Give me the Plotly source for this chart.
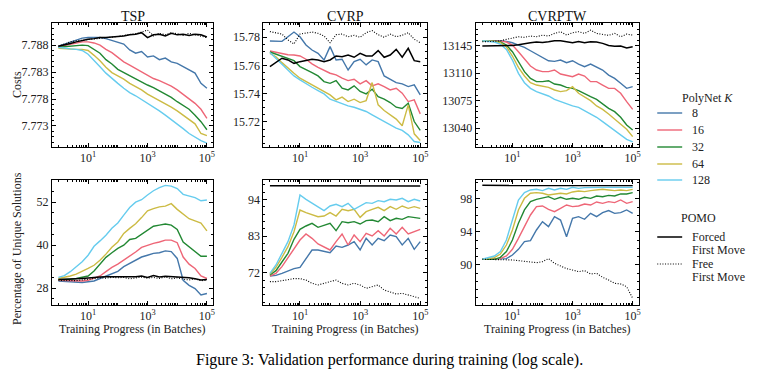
import plotly.graph_objects as go

# ---------------- data ----------------
batches = [1, 1.585, 2.512, 3.981, 6.31, 10, 15.85, 25.12, 39.81, 63.1, 100, 158.5, 251.2, 398.1, 631,
           1000, 1585, 2512, 3981, 6310, 10000, 15849, 25119, 39811, 63096, 100000]

poly_k = ["8", "16", "32", "64", "128"]
poly_colors = ["#4477AA", "#EE6677", "#228833", "#CCBB44", "#66CCEE"]

# TSP costs
tsp_cost_k8 = [7.7878, 7.7882, 7.7886, 7.7890, 7.7893, 7.7894, 7.7894, 7.7894, 7.7892, 7.7889, 7.7886, 7.7882, 7.7871,
               7.7865, 7.7868, 7.7858, 7.7860, 7.7853, 7.7856, 7.7849, 7.7846, 7.7840, 7.7835, 7.7828, 7.7809, 7.7800]
tsp_cost_k16 = [7.7877, 7.7879, 7.7882, 7.7884, 7.7886, 7.7886, 7.7884, 7.7880, 7.7872, 7.7866, 7.7857, 7.7849, 7.7843,
                7.7837, 7.7831, 7.7824, 7.7818, 7.7814, 7.7809, 7.7804, 7.7797, 7.7789, 7.7781, 7.7772, 7.7761, 7.7744]
tsp_cost_k32 = [7.7876, 7.7877, 7.7879, 7.7880, 7.7880, 7.7879, 7.7872, 7.7865, 7.7853, 7.7845, 7.7835, 7.7829, 7.7823,
                7.7818, 7.7812, 7.7806, 7.7801, 7.7795, 7.7789, 7.7783, 7.7775, 7.7768, 7.7761, 7.7750, 7.7738, 7.7723]
tsp_cost_k64 = [7.7874, 7.7873, 7.7872, 7.7872, 7.7872, 7.7870, 7.7861, 7.7851, 7.7839, 7.7829, 7.7823, 7.7817, 7.7809,
                7.7803, 7.7797, 7.7789, 7.7783, 7.7778, 7.7771, 7.7765, 7.7758, 7.7750, 7.7742, 7.7734, 7.7716, 7.7712]
tsp_cost_k128 = [7.7876, 7.7874, 7.7873, 7.7872, 7.7870, 7.7863, 7.7852, 7.7840, 7.7828, 7.7818, 7.7809, 7.7800, 7.7792,
                 7.7786, 7.7779, 7.7773, 7.7766, 7.7758, 7.7750, 7.7742, 7.7734, 7.7725, 7.7716, 7.7709, 7.7703, 7.7698]
tsp_cost_forced = [7.7878, 7.7880, 7.7883, 7.7886, 7.7889, 7.7891, 7.7892, 7.7894, 7.7894, 7.7895, 7.7895, 7.7897, 7.7899,
                   7.7900, 7.7903, 7.7894, 7.7899, 7.7900, 7.7897, 7.7902, 7.7899, 7.7900, 7.7898, 7.7900, 7.7899, 7.7895]
tsp_cost_free = [7.7878, 7.7882, 7.7886, 7.7888, 7.7889, 7.7890, 7.7891, 7.7892, 7.7894, 7.7895, 7.7896, 7.7898, 7.7899,
                 7.7901, 7.7904, 7.7908, 7.7897, 7.7902, 7.7899, 7.7903, 7.7901, 7.7898, 7.7902, 7.7899, 7.7897, 7.7894]

# CVRP costs
cvrp_cost_k8 = [15.7772, 15.7772, 15.7769, 15.7802, 15.7835, 15.7802, 15.7744, 15.7708, 15.7685, 15.7638, 15.7732, 15.7638,
                15.7643, 15.7567, 15.7626, 15.7643, 15.7603, 15.7638, 15.7626, 15.7525, 15.7502, 15.7478, 15.7469, 15.7450,
                15.7462, 15.7391]
cvrp_cost_k16 = [15.7701, 15.7692, 15.7680, 15.7675, 15.7673, 15.7666, 15.7643, 15.7610, 15.7586, 15.7567, 15.7544, 15.7532,
                 15.7509, 15.7492, 15.7502, 15.7469, 15.7492, 15.7455, 15.7469, 15.7450, 15.7426, 15.7438, 15.7403, 15.7344,
                 15.7356, 15.7257]
cvrp_cost_k32 = [15.7694, 15.7680, 15.7666, 15.7650, 15.7633, 15.7591, 15.7572, 15.7549, 15.7525, 15.7485, 15.7473, 15.7492,
                 15.7438, 15.7426, 15.7455, 15.7415, 15.7398, 15.7431, 15.7379, 15.7361, 15.7337, 15.7304, 15.7295, 15.7332,
                 15.7203, 15.7140]
cvrp_cost_k64 = [15.7685, 15.7661, 15.7619, 15.7579, 15.7544, 15.7509, 15.7485, 15.7462, 15.7438, 15.7415, 15.7391, 15.7356,
                 15.7375, 15.7344, 15.7361, 15.7337, 15.7351, 15.7478, 15.7321, 15.7281, 15.7250, 15.7220, 15.7173, 15.7321,
                 15.7116, 15.7069]
cvrp_cost_k128 = [15.7690, 15.7650, 15.7603, 15.7563, 15.7525, 15.7497, 15.7469, 15.7445, 15.7422, 15.7398, 15.7361, 15.7344,
                  15.7328, 15.7314, 15.7304, 15.7290, 15.7274, 15.7250, 15.7227, 15.7203, 15.7180, 15.7156, 15.7140, 15.7109,
                  15.7062, 15.7055]
cvrp_cost_forced = [15.7591, 15.7619, 15.7650, 15.7638, 15.7614, 15.7626, 15.7633, 15.7643, 15.7638, 15.7626, 15.7638, 15.7666,
                    15.7661, 15.7673, 15.7657, 15.7685, 15.7666, 15.7666, 15.7704, 15.7657, 15.7673, 15.7713, 15.7657, 15.7720,
                    15.7633, 15.7626]
cvrp_cost_free = [15.7838, 15.7831, 15.7821, 15.7779, 15.7751, 15.7821, 15.7826, 15.7835, 15.7826, 15.7807, 15.7760, 15.7816,
                  15.7821, 15.7802, 15.7812, 15.7798, 15.7831, 15.7845, 15.7816, 15.7798, 15.7821, 15.7802, 15.7812, 15.7831,
                  15.7784, 15.7760]

# CVRPTW costs
cvrptw_cost_k8 = [13151.4, 13151.4, 13151.8, 13151.4, 13150.5, 13148.8, 13145.8, 13142.9, 13138.6, 13134.4, 13130.2, 13125.9,
                  13125.1, 13126.8, 13123.4, 13125.9, 13121.7, 13118.3, 13121.7, 13118.3, 13114.1, 13107.7, 13103.5, 13097.2,
                  13090.8, 13092.9]
cvrptw_cost_k16 = [13151.4, 13151.4, 13151.4, 13150.9, 13149.7, 13145.8, 13137.4, 13128.9, 13119.2, 13114.1, 13112.0, 13112.0,
                   13114.1, 13109.0, 13107.7, 13105.6, 13109.0, 13106.5, 13099.3, 13099.3, 13095.0, 13090.8, 13090.8, 13084.5,
                   13073.9, 13064.1]
cvrptw_cost_k32 = [13151.4, 13151.4, 13150.9, 13149.7, 13145.8, 13137.4, 13124.7, 13112.0, 13103.5, 13099.3, 13099.3, 13100.5,
                   13096.3, 13095.0, 13092.1, 13090.8, 13087.8, 13083.6, 13080.2, 13076.8, 13070.9, 13065.4, 13061.2, 13054.0,
                   13044.2, 13037.9]
cvrptw_cost_k64 = [13151.4, 13151.4, 13150.5, 13148.8, 13143.7, 13131.9, 13117.5, 13106.5, 13098.0, 13095.0, 13093.7, 13092.1,
                   13088.7, 13086.6, 13087.8, 13092.9, 13084.5, 13079.4, 13075.1, 13068.4, 13064.1, 13058.2, 13051.4, 13045.5,
                   13038.7, 13029.4]
cvrptw_cost_k128 = [13151.4, 13150.9, 13149.7, 13147.1, 13140.3, 13126.8, 13109.9, 13098.0, 13090.8, 13086.6, 13083.6, 13081.1,
                    13076.8, 13073.9, 13070.9, 13068.4, 13066.7, 13062.4, 13058.2, 13054.0, 13048.5, 13043.0, 13037.0, 13031.5,
                    13026.0, 13022.6]
cvrptw_cost_forced = [13144.6, 13144.6, 13144.6, 13144.6, 13145.0, 13145.4, 13146.3, 13148.0, 13148.8, 13149.7, 13149.2, 13150.1,
                      13151.4, 13151.4, 13149.7, 13148.8, 13150.5, 13148.8, 13150.1, 13149.7, 13148.0, 13145.4, 13144.2, 13144.6,
                      13142.0, 13143.7]
cvrptw_cost_free = [13150.1, 13150.1, 13150.5, 13151.4, 13153.0, 13154.7, 13156.4, 13155.6, 13157.3, 13156.4, 13158.5, 13157.3,
                    13160.7, 13162.8, 13158.5, 13161.5, 13162.8, 13160.7, 13164.9, 13160.7, 13159.8, 13158.1, 13160.7, 13156.4,
                    13159.8, 13158.5]

# TSP unique solutions (%)
tsp_uniq_k8 = [30.0, 29.9, 29.7, 29.5, 29.6, 29.8, 30.0, 30.7, 31.4, 32.1, 32.7, 34.0, 34.9, 35.8, 36.7, 37.2, 37.7, 37.9,
               38.4, 38.2, 36.3, 30.2, 28.8, 27.9, 26.1, 26.5]
tsp_uniq_k16 = [30.2, 30.1, 30.0, 30.0, 30.0, 30.2, 30.7, 31.4, 32.6, 33.8, 34.7, 35.8, 36.9, 38.1, 39.4, 40.0, 40.5, 40.9,
                41.4, 41.4, 40.7, 36.7, 34.7, 33.5, 31.4, 30.7]
tsp_uniq_k32 = [30.4, 30.4, 30.5, 30.7, 31.0, 31.4, 32.8, 34.7, 36.6, 37.9, 39.1, 40.0, 41.6, 41.9, 43.1, 44.2, 45.3, 45.6,
                45.9, 45.6, 44.4, 40.9, 39.5, 38.1, 36.9, 36.9]
tsp_uniq_k64 = [30.7, 31.0, 31.4, 31.9, 32.6, 33.5, 34.4, 35.8, 37.5, 39.4, 40.9, 43.3, 44.7, 46.0, 47.7, 49.6, 50.2, 50.7,
                50.9, 51.6, 50.0, 48.7, 47.4, 46.8, 46.2, 44.0]
tsp_uniq_k128 = [31.0, 31.5, 32.6, 34.0, 35.4, 37.2, 39.7, 41.2, 42.8, 44.7, 46.2, 48.4, 50.5, 52.0, 52.7, 54.0, 55.2, 56.1,
                 56.7, 56.5, 55.8, 54.2, 53.7, 53.3, 52.4, 52.6]
tsp_uniq_forced = [30.4, 30.4, 30.5, 30.6, 30.7, 30.9, 31.0, 31.1, 31.2, 31.2, 31.3, 31.1, 31.3, 31.2, 31.4, 31.0, 31.5, 31.1,
                   31.3, 31.2, 31.0, 31.1, 30.9, 30.6, 30.3, 30.4]
tsp_uniq_free = [30.2, 30.1, 30.0, 30.1, 30.3, 30.5, 30.7, 30.9, 30.8, 31.0, 30.9, 31.0, 30.6, 30.9, 31.1, 30.8, 31.0, 30.7,
                 31.2, 30.6, 30.9, 30.5, 30.3, 30.6, 30.1, 30.2]

# CVRP unique solutions (%)
cvrp_uniq_k8 = [71.0, 71.2, 71.8, 72.6, 73.2, 73.6, 76.3, 78.8, 78.8, 78.4, 78.0, 80.0, 79.6, 80.3, 81.3, 78.8, 82.3, 80.3,
                82.3, 81.6, 83.3, 82.8, 80.3, 82.3, 79.0, 81.3]
cvrp_uniq_k16 = [71.0, 71.8, 73.8, 76.6, 79.3, 81.8, 83.6, 82.3, 80.6, 79.6, 78.8, 81.3, 83.6, 80.3, 83.3, 81.3, 83.8, 83.0,
                 84.6, 83.0, 85.3, 83.6, 85.6, 83.6, 84.3, 85.0]
cvrp_uniq_k32 = [71.3, 72.6, 75.2, 77.8, 82.0, 85.0, 86.0, 86.8, 85.6, 86.3, 86.8, 84.6, 87.3, 87.0, 87.3, 86.6, 87.6, 87.8,
                 87.3, 88.8, 87.6, 88.3, 88.0, 88.8, 88.6, 88.3]
cvrp_uniq_k64 = [71.6, 73.6, 76.6, 79.8, 84.3, 90.8, 90.0, 89.3, 88.8, 89.0, 90.0, 89.0, 91.0, 90.6, 91.0, 88.6, 90.3, 91.0,
                 91.6, 90.6, 91.8, 91.0, 92.0, 91.3, 91.8, 91.3]
cvrp_uniq_k128 = [71.8, 74.3, 77.8, 81.3, 86.3, 95.3, 94.0, 92.8, 91.8, 90.6, 92.0, 92.5, 91.8, 92.8, 91.0, 92.0, 93.0, 92.8,
                  93.6, 93.3, 94.0, 93.8, 94.3, 93.3, 94.0, 93.5]
cvrp_uniq_forced = [98.1, 98.1, 98.1, 98.1, 98.1, 98.1, 98.1, 98.1, 98.0, 98.1, 98.1, 98.1, 98.0, 98.1, 98.1, 98.1, 98.0, 98.1,
                    98.1, 98.0, 98.1, 98.1, 98.0, 98.0, 98.0, 98.0]
cvrp_uniq_free = [69.3, 69.3, 69.6, 70.0, 70.2, 70.2, 69.8, 68.8, 68.3, 68.8, 69.3, 69.8, 68.8, 68.3, 68.8, 68.3, 67.3, 67.8,
                  68.3, 66.8, 66.3, 65.6, 65.8, 65.3, 65.0, 64.3]

# CVRPTW unique solutions (%)
cvrptw_uniq_k8 = [90.69, 90.69, 90.69, 90.69, 90.77, 91.21, 91.90, 92.83, 92.95, 94.24, 95.25, 94.65, 95.86, 95.45, 93.43,
                  95.66, 95.86, 95.54, 96.26, 95.86, 96.34, 96.59, 96.26, 96.34, 96.67, 96.26]
cvrptw_uniq_k16 = [90.69, 90.69, 90.69, 90.77, 91.09, 91.90, 93.23, 94.65, 96.06, 97.07, 97.15, 96.75, 96.46, 96.87, 97.27,
                   97.07, 97.15, 97.39, 97.27, 97.64, 97.47, 97.68, 97.56, 97.88, 97.47, 97.68]
cvrptw_uniq_k32 = [90.69, 90.69, 90.69, 90.93, 91.62, 93.03, 95.05, 96.67, 97.68, 97.96, 98.08, 98.28, 97.96, 98.20, 97.96,
                   98.08, 97.96, 98.20, 98.08, 98.36, 98.28, 98.44, 98.36, 98.61, 98.61, 98.77]
cvrptw_uniq_k64 = [90.69, 90.77, 90.89, 91.33, 92.42, 94.24, 96.67, 98.08, 98.69, 98.77, 98.69, 98.48, 98.61, 98.69, 98.61,
                   98.85, 98.97, 98.89, 99.01, 99.09, 99.17, 99.09, 99.01, 99.09, 99.01, 99.17]
cvrptw_uniq_k128 = [90.69, 90.93, 91.09, 91.62, 93.03, 95.45, 97.88, 98.77, 99.09, 99.17, 99.01, 99.29, 99.09, 99.29, 99.17,
                    99.41, 99.29, 99.37, 99.41, 99.37, 99.41, 99.41, 99.45, 99.41, 99.41, 99.41]
cvrptw_uniq_forced = [99.65, 99.65, 99.65, 99.65, 99.65, 99.65, 99.65, 99.65, 99.65, 99.65, 99.65, 99.65, 99.65, 99.65, 99.65,
                      99.64, 99.64, 99.64, 99.64, 99.63, 99.63, 99.63, 99.62, 99.62, 99.62, 99.62]
cvrptw_uniq_free = [90.69, 90.69, 90.69, 90.69, 90.61, 90.61, 90.53, 90.45, 90.36, 90.28, 90.40, 90.77, 90.20, 89.88, 89.56,
                    89.39, 89.19, 89.31, 88.91, 88.99, 88.51, 88.18, 87.78, 87.70, 87.37, 85.96]

panel_titles = ["TSP", "CVRP", "CVRPTW"]
x_tickvals = [10, 1000, 100000]
x_ticktext = ["10<sup>1</sup>", "10<sup>3</sup>", "10<sup>5</sup>"]

cost_ticks = [[7.773, 7.778, 7.783, 7.788], [15.72, 15.74, 15.76, 15.78], [13040, 13075, 13110, 13145]]
cost_ticktext = [["7.773", "7.778", "7.783", "7.788"], ["15.72", "15.74", "15.76", "15.78"],
                 ["13040", "13075", "13110", "13145"]]
uniq_ticks = [[28, 40, 52], [72, 83, 94], [90, 94, 98]]

legend_poly_title = "PolyNet <i>K</i>"
legend_pomo_title = "POMO"
legend_pomo_labels = [("Forced", "First Move"), ("Free", "First Move")]

panels = [
    [tsp_cost_k8, tsp_cost_k16, tsp_cost_k32, tsp_cost_k64, tsp_cost_k128, tsp_cost_forced, tsp_cost_free],
    [cvrp_cost_k8, cvrp_cost_k16, cvrp_cost_k32, cvrp_cost_k64, cvrp_cost_k128, cvrp_cost_forced, cvrp_cost_free],
    [cvrptw_cost_k8, cvrptw_cost_k16, cvrptw_cost_k32, cvrptw_cost_k64, cvrptw_cost_k128, cvrptw_cost_forced,
     cvrptw_cost_free],
    [tsp_uniq_k8, tsp_uniq_k16, tsp_uniq_k32, tsp_uniq_k64, tsp_uniq_k128, tsp_uniq_forced, tsp_uniq_free],
    [cvrp_uniq_k8, cvrp_uniq_k16, cvrp_uniq_k32, cvrp_uniq_k64, cvrp_uniq_k128, cvrp_uniq_forced, cvrp_uniq_free],
    [cvrptw_uniq_k8, cvrptw_uniq_k16, cvrptw_uniq_k32, cvrptw_uniq_k64, cvrptw_uniq_k128, cvrptw_uniq_forced,
     cvrptw_uniq_free],
]

# ---------------- layout geometry ----------------
# page body has an 8px margin, so the figure is placed 8px in from the window's corner
OFF = 8
W, H = 741, 367
FONT = "Liberation Serif"


def px(X):
    return (X - OFF) / W


def py(Y):
    return 1 - (Y - OFF) / H


col_px = [(52, 214), (264, 428), (477, 641)]
row_px = [(23, 147), (180, 305)]
y_ranges = [[7.7691, 7.7921], [15.7023, 15.7899], [13016.2, 13173.9],
            [23.3, 58.2], [62.3, 99.8], [85.15, 100.3]]
y_minor_dtick = [0.001, 0.005, 7, 3, 2.2, 1]
y_minor_tick0 = [7.773, 15.72, 13040, 28, 72, 90]

minor_x = [m * 10 ** d for d in range(0, 6) for m in range(1, 10) if m * 10 ** d <= 100000]

line_styles = [dict(color=c, width=1.4) for c in poly_colors] + [
    dict(color="black", width=1.5),
    dict(color="black", width=1.1, dash="1px,1.6px")]

fig = go.Figure()
for p in range(6):
    ax = "" if p == 0 else str(p + 1)
    series = panels[p]
    for s in range(7):
        name = poly_k[s] if s < 5 else " ".join(legend_pomo_labels[s - 5])
        fig.add_trace(go.Scatter(
            x=batches, y=series[s], mode="lines", line=line_styles[s], name=name,
            showlegend=False, xaxis="x" + ax, yaxis="y" + ax))

lay = {}
for p in range(6):
    r, c = divmod(p, 3)
    ax = "" if p == 0 else str(p + 1)
    x0, x1 = col_px[c]
    y0, y1 = row_px[r]
    lay["xaxis" + ax] = dict(
        domain=[px(x0), px(x1)], anchor="y" + ax, type="log", range=[-0.22, 5.22],
        tickmode="array", tickvals=x_tickvals, ticktext=x_ticktext,
        ticks="inside", ticklen=4, tickwidth=1, tickcolor="black",
        showline=True, linecolor="black", linewidth=1, mirror="ticks",
        showgrid=False, zeroline=False,
        tickfont=dict(family=FONT, size=12, color="#222"),
        minor=dict(tickmode="array", tickvals=minor_x, ticks="inside", ticklen=2, tickcolor="black", showgrid=False))
    if r == 0:
        tv, tt = cost_ticks[c], cost_ticktext[c]
    else:
        tv = uniq_ticks[c]
        tt = [str(v) for v in tv]
    lay["yaxis" + ax] = dict(
        domain=[py(y1), py(y0)], anchor="x" + ax, range=y_ranges[p],
        tickmode="array", tickvals=tv, ticktext=tt,
        ticks="inside", ticklen=4, tickwidth=1, tickcolor="black",
        showline=True, linecolor="black", linewidth=1, mirror="ticks",
        showgrid=False, zeroline=False,
        tickfont=dict(family=FONT, size=12, color="#222"),
        minor=dict(dtick=y_minor_dtick[p], tick0=y_minor_tick0[p], ticks="inside", ticklen=2,
                   tickcolor="black", showgrid=False))


def txt(text, X, Y, size=12, anchor="center", angle=0, color="#222", yanchor="middle"):
    return dict(text=text, x=px(X), y=py(Y), xref="paper", yref="paper", showarrow=False,
                textangle=angle, font=dict(family=FONT, size=size, color=color),
                xanchor=anchor, yanchor=yanchor)


annotations = []
for c, t in enumerate(panel_titles):
    x0, x1 = col_px[c]
    annotations.append(dict(text=t, x=px((x0 + x1) / 2), y=1, xref="paper", yref="paper", showarrow=False,
                            font=dict(family=FONT, size=14, color="#111"), xanchor="center", yanchor="top",
                            yshift=1))
    annotations.append(txt("Training Progress (in Batches)", (x0 + x1) / 2, 329))
# rotated axis titles, anchored at the figure's left edge so they are not clipped
annotations.append(dict(text="Costs", x=0, y=py(85), xref="paper", yref="paper", showarrow=False,
                        textangle=-90, font=dict(family=FONT, size=12, color="#222"),
                        xanchor="left", yanchor="middle"))
annotations.append(dict(text="Percentage of Unique Solutions", x=0, y=py(249), xref="paper", yref="paper",
                        showarrow=False, textangle=-90, font=dict(family=FONT, size=12, color="#222"),
                        xanchor="left", yanchor="middle"))
annotations.append(txt("Figure 3: Validation performance during training (log scale).", 391, 360,
                       size=16, color="black"))

# legend (drawn in paper space)
shapes = []
annotations.append(txt(legend_poly_title, 709, 98))
leg_y = [113, 130, 147, 164, 180]
for i in range(5):
    shapes.append(dict(type="line", xref="paper", yref="paper", x0=px(659), x1=px(684),
                       y0=py(leg_y[i]), y1=py(leg_y[i]), line=line_styles[i]))
    annotations.append(txt(poly_k[i], 692, leg_y[i], anchor="left"))
annotations.append(txt(legend_pomo_title, 700, 218))
pomo_y = [(237, 250), (264, 277)]
for j in range(2):
    ya, yb = pomo_y[j]
    shapes.append(dict(type="line", xref="paper", yref="paper", x0=px(659), x1=px(684),
                       y0=py(ya), y1=py(ya), line=line_styles[5 + j]))
    annotations.append(txt(legend_pomo_labels[j][0], 692, ya, anchor="left"))
    annotations.append(txt(legend_pomo_labels[j][1], 692, yb, anchor="left"))

fig.update_layout(
    width=W, height=H, margin=dict(l=0, r=0, t=0, b=0),
    paper_bgcolor="white", plot_bgcolor="white",
    font=dict(family=FONT, size=12, color="#222"),
    showlegend=False,
    annotations=annotations, shapes=shapes,
    **lay)

fig.write_html("out.html")
